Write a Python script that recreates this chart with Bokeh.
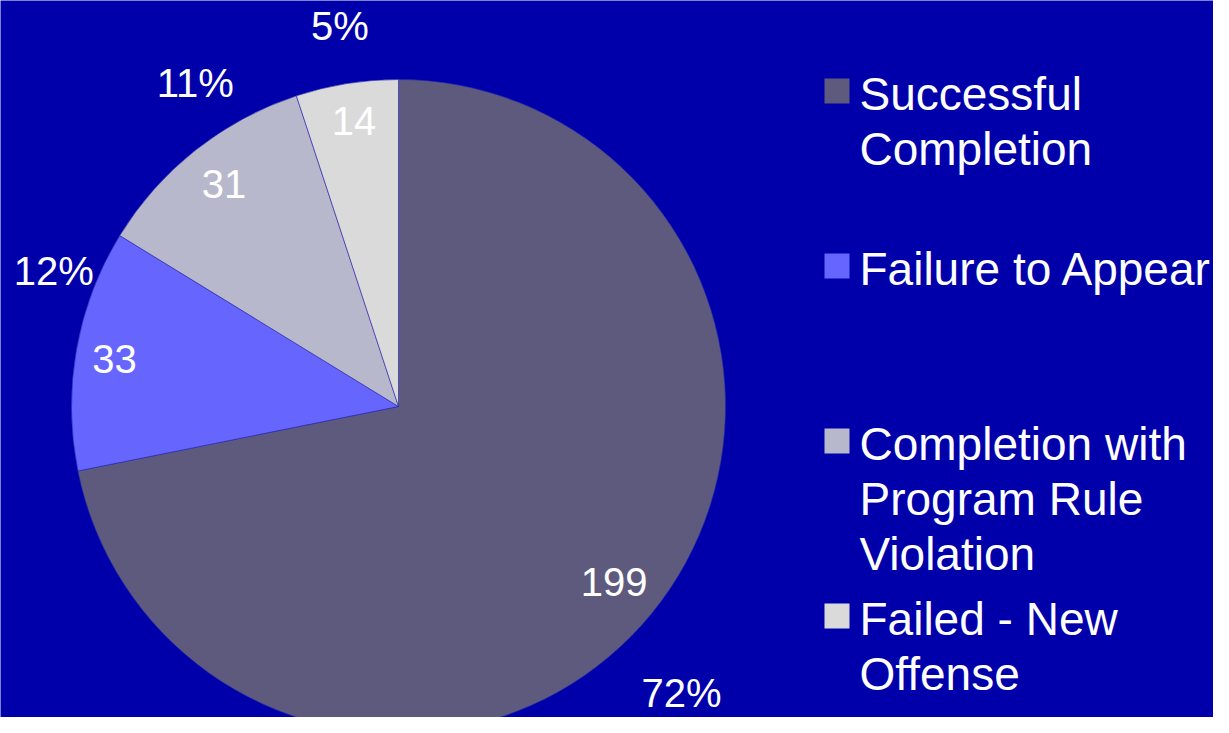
import math
from bokeh.plotting import figure
from bokeh.models import Range1d, ColumnDataSource
from bokeh.core.properties import value
from bokeh.embed import file_html
from bokeh.resources import INLINE

# ---- data ----
categories = ["Successful\nCompletion", "Failure to Appear",
              "Completion with\nProgram Rule\nViolation", "Failed - New\nOffense"]
counts = [199, 33, 31, 14]

# ---- style ----
palette = ["#5E5A7D", "#6666FF", "#B8B8CC", "#DADADA"]
BG = "#0000AA"
FONT = value("Liberation Sans")

W, H = 1213, 717
p = figure(width=W, height=H, output_backend="svg", toolbar_location=None,
           x_range=Range1d(0, W), y_range=Range1d(0, H), min_border=0)
p.axis.visible = False
p.grid.visible = False
p.outline_line_color = None
p.background_fill_color = BG
p.border_fill_color = BG

# pie geometry (screen px, y up)
cx, cy, R = 398, H - 406, 327
total = sum(counts)
starts, ends, mids = [], [], []
cum = 0
for c in counts:
    a0 = math.pi / 2 - 2 * math.pi * cum / total
    cum += c
    a1 = math.pi / 2 - 2 * math.pi * cum / total
    starts.append(a0)
    ends.append(a1)
    mids.append((a0 + a1) / 2)

src = ColumnDataSource(dict(start=starts, end=ends, color=palette))
p.wedge(x=cx, y=cy, radius=R, start_angle="start", end_angle="end",
        direction="clock", fill_color="color", line_color="#2A2AB0",
        line_width=0.6, source=src)

# value labels inside
vr = 0.86 * R
vsrc = ColumnDataSource(dict(
    x=[cx + vr * math.cos(m) for m in mids],
    y=[cy + vr * math.sin(m) for m in mids],
    t=[str(c) for c in counts],
    dx=[-2, -7, 0, 0], dy=[-3, 2, -2, -8]))
p.text(x="x", y="y", text="t", source=vsrc, text_font=FONT, text_font_size="40px",
       text_color="white", text_align="center", text_baseline="middle",
       x_offset="dx", y_offset="dy")

# percentage labels outside
pr = 1.17 * R
nudge_x = [-13, 32, 34, 2]
nudge_y = [44, -69, -23, -3]
psrc = ColumnDataSource(dict(
    x=[cx + pr * math.cos(m) for m in mids],
    y=[cy + pr * math.sin(m) for m in mids],
    t=["%d%%" % round(100 * c / total) for c in counts],
    dx=nudge_x, dy=nudge_y))
p.text(x="x", y="y", text="t", source=psrc, text_font=FONT, text_font_size="40px",
       text_color="white", text_align="center", text_baseline="middle",
       x_offset="dx", y_offset="dy")

# legend (manual)
sq_x, sq_y0, step, sq = 836.5, H - 90.5, 175, 25
txt_x, base_drop, line_step = 859, 2.5, 55
sqs = dict(x=[], y=[], color=[])
lines = dict(x=[], y=[], t=[])
for i, (cat, col) in enumerate(zip(categories, palette)):
    yc = sq_y0 - i * step
    sqs["x"].append(sq_x)
    sqs["y"].append(yc)
    sqs["color"].append(col)
    for k, ln in enumerate(cat.split("\n")):
        lines["x"].append(txt_x)
        lines["y"].append(yc - base_drop - k * line_step)
        lines["t"].append(ln)
p.rect(x="x", y="y", width=sq, height=sq, fill_color="color", line_color=None,
       source=ColumnDataSource(sqs))
p.text(x="x", y="y", text="t", source=ColumnDataSource(lines), text_font=FONT,
       text_font_size="46px", text_color="white", text_align="left",
       text_baseline="alphabetic")

open("out.html", "w").write(file_html(p, INLINE))
